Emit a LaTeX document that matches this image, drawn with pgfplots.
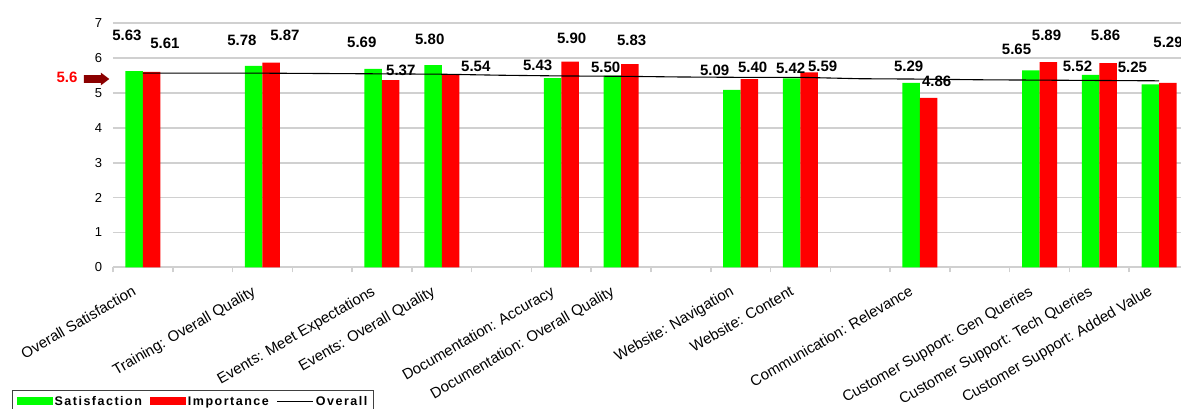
\documentclass[border=0pt]{standalone}
\usepackage{pgfplots}
\pgfplotsset{compat=1.18}
\usepackage{pgfplotstable}
\usepackage{fontspec}
\setmainfont{Liberation Sans}
\newfontfamily\legfont{Liberation Sans}[LetterSpace=12]

\definecolor{gridgray}{HTML}{D0D0D0}
\definecolor{satgreen}{HTML}{00FF00}
\definecolor{impred}{HTML}{FF0000}
\definecolor{arrowred}{HTML}{8B0000}
\definecolor{legframe}{HTML}{404040}

\pgfplotstableread{
x sat imp
0 5.63 5.61
2 5.78 5.87
4 5.69 5.37
5 5.80 5.54
7 5.43 5.90
8 5.50 5.83
10 5.09 5.40
11 5.42 5.59
13 5.29 4.86
15 5.65 5.89
16 5.52 5.86
17 5.25 5.29
}\bars

\pgfplotstableread{
x y
0 5.57
1 5.57
2 5.57
3 5.56
4 5.55
5 5.54
6 5.51
7 5.49
8 5.48
9 5.46
10 5.45
11 5.45
12 5.41
13 5.40
14 5.38
15 5.37
16 5.36
17 5.35
}\overall

\pgfplotstableread{
x y label
-0.268 6.66 5.63
0.368 6.435 5.61
1.656 6.52 5.78
2.375 6.66 5.87
3.662 6.46 5.69
4.314 5.65 5.37
4.799 6.55 5.80
5.569 5.75 5.54
6.605 5.78 5.43
7.174 6.58 5.90
7.742 5.75 5.50
8.177 6.52 5.83
9.565 5.64 5.09
10.2 5.75 5.40
10.836 5.72 5.42
11.371 5.78 5.59
12.81 5.78 5.29
13.278 5.34 4.86
14.615 6.26 5.65
15.117 6.66 5.89
15.635 5.78 5.52
16.104 6.66 5.86
16.555 5.75 5.25
17.15 6.46 5.29
}\labels

\begin{document}
\begin{tikzpicture}[x=1pt,y=1pt]
\begin{axis}[
  name=ax,
  at={(0pt,0pt)}, anchor=south west,
  scale only axis,
  width=1076pt, height=244pt,
  xmin=-0.5, xmax=17.5,
  ymin=0, ymax=7,
  clip=false,
  axis line style={draw=none},
  ymajorgrids,
  grid style={gridgray, line width=1.8pt},
  ytick={0,1,...,7},
  ytick style={draw=none},
  yticklabel style={font=\fontsize{13}{15}\selectfont, anchor=east, xshift=-3pt},
  /pgf/number format/assume math mode=true,
  xtick={0,2,4,5,7,8,10,11,13,15,16,17},
  xticklabels={Overall Satisfaction, Training: Overall Quality, Events: Meet Expectations, Events: Overall Quality, Documentation: Accuracy, Documentation: Overall Quality, Website: Navigation, Website: Content, Communication: Relevance, Customer Support: Gen Queries, Customer Support: Tech Queries, Customer Support: Added Value},
  major x tick style={draw=none},
  minor xtick={-0.5,0.5,...,17.5},
  minor x tick style={gridgray, line width=1.5pt},
  minor tick length=5pt,
  tick align=outside,
  xtick pos=bottom,
  xticklabel style={font=\fontsize{15}{17}\selectfont, xshift=-11pt, yshift=-12pt, rotate=30, anchor=north east, inner sep=1pt},
  legend columns=3,
  legend cell align=left,
  legend style={
    at={(axis description cs:-0.0939,-0.503)}, anchor=north west,
    draw=legframe, line width=1.3pt,
    font=\legfont\bfseries\fontsize{12.5}{14}\selectfont,
    inner xsep=4pt, inner ysep=3.5pt,
    /tikz/every even column/.append style={column sep=6pt},
  },
]
\addplot[ybar, bar width=17.5pt, bar shift=-8.75pt, fill=satgreen, draw=none,
  legend image code/.code={\fill[satgreen] (0pt,-4pt) rectangle (36pt,4pt);}]
  table[x=x, y=sat] {\bars};
\addlegendentry{Satisfaction}
\addplot[ybar, bar width=17.5pt, bar shift=8.75pt, fill=impred, draw=none,
  legend image code/.code={\fill[impred] (0pt,-4pt) rectangle (36pt,4pt);}]
  table[x=x, y=imp] {\bars};
\addlegendentry{Importance}
\addplot[black, line width=1.1pt, mark=none,
  legend image code/.code={\draw[black, line width=1.1pt] (0pt,0pt) -- (36pt,0pt);}]
  table[x=x, y=y] {\overall};
\addlegendentry{Overall}
\addplot[only marks, mark=none, forget plot,
  nodes near coords, point meta=explicit symbolic,
  every node near coord/.style={anchor=center, inner sep=0pt, font=\bfseries\fontsize{15}{17}\selectfont}]
  table[x=x, y=y, meta=label] {\labels};
\end{axis}
\fill[arrowred] (-29pt,184.5pt) -- (-12pt,184.5pt) -- (-12pt,182pt) -- (-3.7pt,188.3pt) -- (-12pt,194.6pt) -- (-12pt,192.1pt) -- (-29pt,192.1pt) -- cycle;
\node[text=impred, font=\bfseries\fontsize{15}{17}\selectfont, inner sep=0pt] at (-46pt,190.3pt) {5.6};
\pgfresetboundingbox
\path (-113pt,-140.7pt) rectangle (1068pt,267.3pt);
\end{tikzpicture}
\end{document}
